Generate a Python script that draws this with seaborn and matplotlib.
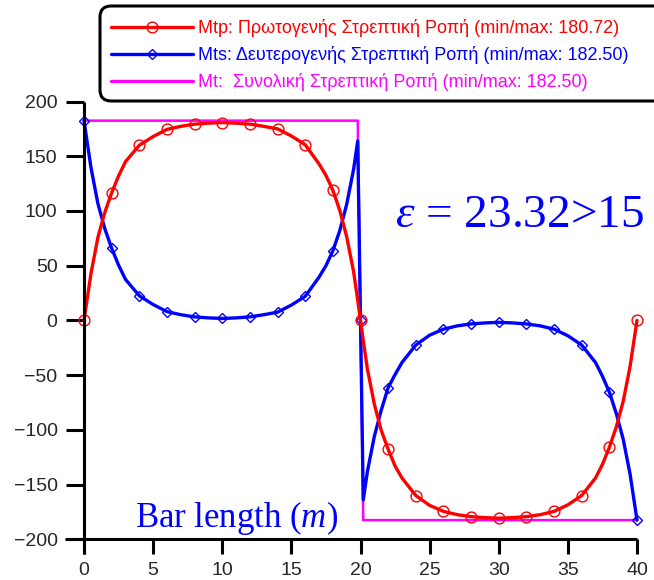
import matplotlib
matplotlib.use("Agg")
import matplotlib.pyplot as plt
import pandas as pd
import seaborn as sns
from matplotlib.lines import Line2D
from matplotlib.patches import FancyBboxPatch

# Position along the bar (m)
x_pos = [0, 0.5, 1, 1.5, 2, 2.5, 3, 4, 5, 6, 7, 8, 9, 10, 11, 12, 13, 14, 15, 16,
         17, 17.5, 18, 18.5, 19, 19.5, 19.8, 20,
         20.2, 20.5, 21, 21.5, 22, 22.5, 23, 24, 25, 26, 27, 28, 29, 30, 31, 32,
         33, 34, 35, 36, 37, 37.5, 38, 38.5, 39, 39.5, 40]

# Primary torsional moment Mtp
mtp = [0, 42.5, 75.5, 98.5, 116.5, 132, 145, 160, 168, 174.5, 177.3, 179.3, 180.2,
       180.72, 180.2, 179.3, 177.3, 175, 168.5, 160.5, 143, 132.5, 119, 100.5,
       76.5, 44.5, 18.5, 0,
       -18.5, -44.5, -76.5, -100.5, -117.7, -133, -144, -160, -169, -174.5,
       -177.5, -179.3, -180.2, -180.72, -180.2, -179.3, -177.5, -174.5, -168.5,
       -160, -144, -131.5, -116, -97.5, -74, -42, 0]

# Secondary (warping) torsional moment Mts
mts = [182.5, 140, 107, 84, 66, 50.5, 37.5, 22.5, 14.5, 8, 5.2, 3.2, 2.3, 1.78,
       2.3, 3.2, 5.2, 7.5, 14, 22, 39.5, 50, 63.5, 82, 106, 138, 164, 0,
       -164, -138, -106, -82, -61.5, -49.5, -38.5, -22.5, -13.5, -8, -5, -3.2,
       -2.3, -1.78, -2.3, -3.2, -5, -8, -14, -22.5, -38.5, -51, -65.5, -85,
       -108.5, -140.5, -182.5]

# Total torsional moment Mt
mt_x = [0, 19.8, 20.2, 40]
mt = [182.5, 182.5, -182.5, -182.5]

x_ticks = [0, 5, 10, 15, 20, 25, 30, 35, 40]
y_ticks = [-200, -150, -100, -50, 0, 50, 100, 150, 200]

lbl_mtp = "Mtp: Πρωτογενής Στρεπτική Ροπή (min/max: 180.72)"
lbl_mts = "Mts: Δευτερογενής Στρεπτική Ροπή (min/max: 182.50)"
lbl_mt = "Mt:  Συνολική Στρεπτική Ροπή (min/max: 182.50)"

RED, BLUE, PINK = "#ff0000", "#0000ff", "#ff00ff"

sns.set_theme(style="white")
plt.rcParams["font.family"] = ["Liberation Sans", "DejaVu Sans"]
plt.rcParams["mathtext.fontset"] = "custom"
plt.rcParams["mathtext.rm"] = "Liberation Serif"
plt.rcParams["mathtext.it"] = "Liberation Serif:italic"

W, H = 654, 580
fig = plt.figure(figsize=(W / 100, H / 100), dpi=100)
x0_px, x1_px, ytop_px, ybot_px = 84, 637, 101.5, 539.3
ax = fig.add_axes([x0_px / W, 1 - ybot_px / H, (x1_px - x0_px) / W,
                   (ybot_px - ytop_px) / H])

df = pd.DataFrame({"x": x_pos, "Mtp": mtp, "Mts": mts})
dft = pd.DataFrame({"x": mt_x, "Mt": mt})
marks = [i for i, v in enumerate(x_pos) if v % 2 == 0]

sns.lineplot(data=dft, x="x", y="Mt", ax=ax, color=PINK, lw=1.8,
             estimator=None, sort=False, clip_on=False, zorder=2)
sns.lineplot(data=df, x="x", y="Mts", ax=ax, color=BLUE, lw=2.4,
             estimator=None, sort=False, marker="D", markersize=5.4,
             markerfacecolor="none", markeredgecolor=BLUE, markeredgewidth=1.0,
             markevery=marks, clip_on=False, zorder=3)
sns.lineplot(data=df, x="x", y="Mtp", ax=ax, color=RED, lw=2.4,
             estimator=None, sort=False, marker="o", markersize=7.8,
             markerfacecolor="none", markeredgecolor=RED, markeredgewidth=1.0,
             markevery=marks, clip_on=False, zorder=4)

ax.set_xlim(0, 40)
ax.set_ylim(-200, 200)
ax.set_xticks(x_ticks)
ax.set_yticks(y_ticks)
ax.set_xlabel("")
ax.set_ylabel("")
for s in ax.spines.values():
    s.set_visible(False)
ax.tick_params(axis="y", direction="out", length=13, width=2.2, pad=6,
               labelsize=14, color="black", left=True)
ax.tick_params(axis="x", direction="out", length=11, width=2.2, pad=5,
               labelsize=14, color="black", bottom=True)

# axis lines crossing at the origin corner
ax.plot([0, 0], [-0.0343, 1], transform=ax.transAxes, color="black", lw=2.2,
        clip_on=False, solid_capstyle="butt", zorder=5)
ax.plot([-0.0344, 1], [0, 0], transform=ax.transAxes, color="black", lw=2.2,
        clip_on=False, solid_capstyle="butt", zorder=5)

fig.text(135 / W, 1 - 527 / H, r"Bar length ($\mathit{m}$)", color=BLUE,
         fontsize=25, family="Liberation Serif", va="baseline", ha="left")
fig.text(395 / W, 1 - 226.7 / H, r"$\varepsilon$ = 23.32>15", color=BLUE,
         fontsize=34, family="Liberation Serif", va="baseline", ha="left")

# legend frame with rounded corners
frame = FancyBboxPatch((1.0, (H - 101) / 100), 6.2, 0.95,
                       boxstyle="round,pad=0,rounding_size=0.11",
                       transform=fig.dpi_scale_trans, fill=False,
                       edgecolor="black", linewidth=2.2, clip_on=False)
fig.add_artist(frame)

handles = [
    Line2D([], [], color=RED, lw=2.4, marker="o", markersize=7.8,
           markerfacecolor="none", markeredgecolor=RED, markeredgewidth=1.0),
    Line2D([], [], color=BLUE, lw=2.4, marker="D", markersize=5.4,
           markerfacecolor="none", markeredgecolor=BLUE, markeredgewidth=1.0),
    Line2D([], [], color=PINK, lw=2.4),
]
fig.legend(handles, [lbl_mtp, lbl_mts, lbl_mt], loc="upper left",
           bbox_to_anchor=(111 / W, 1 - 19 / H), frameon=False, fontsize=13,
           handlelength=4.55, handletextpad=0.28, labelspacing=0.5,
           borderpad=0, borderaxespad=0, labelcolor="linecolor")

fig.savefig("out.png", dpi=100)
